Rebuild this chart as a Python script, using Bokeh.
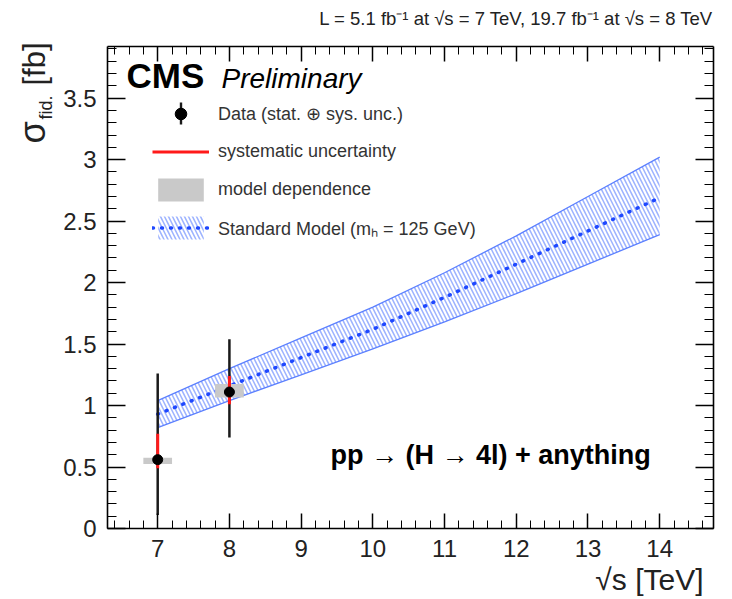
import math
from bokeh.plotting import figure
from bokeh.models import (Range1d, SingleIntervalTicker, LinearAxis, Label, Legend,
                          LegendItem, CustomJSTickFormatter, CustomLabelingPolicy,
                          BoxAnnotation)
from bokeh.embed import file_html
from bokeh.resources import INLINE

# ---------------- data ----------------
sqrt_s = [7, 8]
sigma = [0.56, 1.11]
total_up = [1.26, 1.54]
total_down = [0.11, 0.74]
sys_up = [0.77, 1.24]
sys_down = [0.49, 1.01]
model_up = [0.575, 1.175]
model_down = [0.525, 1.065]
model_left = [6.8, 7.8]
model_right = [7.2, 8.2]

sm_sqrt_s = [7, 8, 9, 10, 11, 12, 13, 14]
sm_central = [0.93, 1.16, 1.39, 1.62, 1.88, 2.15, 2.42, 2.69]
sm_upper = [1.04, 1.30, 1.55, 1.80, 2.08, 2.38, 2.70, 3.02]
sm_lower = [0.82, 1.04, 1.25, 1.46, 1.68, 1.91, 2.15, 2.39]

x_start, x_end = 6.3, 14.75
y_start, y_end = 0.0, 3.92

FONT = "Liberation Sans"
W, H = 732, 599
FL, FR, FT, FB = 107, 713, 46, 528   # visual frame box in canvas pixels
KX = (x_end - x_start) / (FR - FL)
KY = (y_end - y_start) / (FB - FT)


def X(px):
    return x_start + (px - FL) * KX


def Y(py):
    return y_start + (FB - py) * KY


p = figure(width=W, height=H, output_backend="svg", toolbar_location=None,
           x_range=Range1d(X(0), X(W)), y_range=Range1d(Y(H), Y(0)),
           min_border=0, x_axis_location=None, y_axis_location=None)
p.xgrid.visible = False
p.ygrid.visible = False
p.outline_line_color = None
p.background_fill_color = "white"
p.border_fill_color = "white"

fmt = CustomJSTickFormatter(code="return String(Math.round(tick*10)/10);")
hide_labels = CustomLabelingPolicy(code="for (const i of indices) indices.unset(i)")


def make_axis(interval, fixed, bounds, major, minor, show_labels):
    ax = LinearAxis(ticker=SingleIntervalTicker(interval=interval, num_minor_ticks=5),
                    fixed_location=fixed, bounds=bounds, formatter=fmt)
    ax.axis_line_color = "black"
    ax.axis_line_width = 1.6
    ax.major_tick_in = major
    ax.major_tick_out = 0
    ax.minor_tick_in = minor
    ax.minor_tick_out = 0
    ax.major_tick_line_color = "black"
    ax.major_tick_line_width = 1.5
    ax.minor_tick_line_color = "black"
    ax.minor_tick_line_width = 1
    if show_labels:
        ax.major_label_text_font = FONT
        ax.major_label_text_font_size = "24px"
        ax.major_label_text_color = "#222222"
        ax.major_label_standoff = 11
    else:
        ax.major_label_policy = hide_labels
    return ax


p.add_layout(make_axis(1, y_start, (x_start, x_end), 15, 8, True), "below")
p.add_layout(make_axis(1, y_end, (x_start, x_end), 15, 8, False), "above")
p.add_layout(make_axis(0.5, x_start, (y_start, y_end), 18, 9, True), "left")
p.add_layout(make_axis(0.5, x_end, (y_start, y_end), 18, 9, False), "right")

# ---------------- SM band ----------------
band_r = p.varea(x=sm_sqrt_s, y1=sm_lower, y2=sm_upper, fill_alpha=0,
                 hatch_pattern="\\", hatch_color="#9cb2ff", hatch_weight=1.5,
                 hatch_scale=8, hatch_alpha=1.0)
p.line(sm_sqrt_s, sm_upper, line_color="#5c80ff", line_width=1.3)
p.line(sm_sqrt_s, sm_lower, line_color="#5c80ff", line_width=1.3)
central_r = p.line(sm_sqrt_s, sm_central, line_color="#1f48ff", line_width=3.5,
                   line_dash="1 8", line_cap="round")

# ---------------- measurements ----------------
gray_rs = []
for i in range(len(sqrt_s)):
    gray_rs.append(p.varea(x=[model_left[i], model_right[i]],
                           y1=[model_down[i], model_down[i]],
                           y2=[model_up[i], model_up[i]],
                           fill_color="#c9c9c9"))
p.segment(x0=sqrt_s, y0=total_down, x1=sqrt_s, y1=total_up,
          line_color="#1a1a1a", line_width=2.5)
red_r = p.segment(x0=sqrt_s, y0=sys_down, x1=sqrt_s, y1=sys_up,
                  line_color="#ff1a1a", line_width=3)
pt_r = p.scatter(sqrt_s, sigma, size=10, fill_color="black", line_color="black")

# ---------------- legend ----------------
# vertical error-bar stroke of the "Data" legend key
p.add_layout(BoxAnnotation(left=X(179.3), right=X(181.7), top=Y(102), bottom=Y(124),
                           fill_color="#1a1a1a", fill_alpha=1, line_color=None))
legend = Legend(items=[
    LegendItem(label="Data (stat. \u2295 sys. unc.)", renderers=[pt_r]),
    LegendItem(label="systematic uncertainty", renderers=[red_r]),
    LegendItem(label="model dependence", renderers=[gray_rs[0]]),
    LegendItem(label="Standard Model (m\u2095 = 125 GeV)", renderers=[band_r, central_r]),
], location=(152, H - 242), glyph_width=57, glyph_height=29, spacing=9,
    label_standoff=9, label_height=29, label_text_font=FONT,
    label_text_font_size="18px", label_text_color="#333333",
    border_line_alpha=0, background_fill_alpha=0, padding=0, margin=0)
p.add_layout(legend)

# ---------------- texts ----------------
SHIFT = 0.36  # baseline correction (em)


def lab(text, px, py, fs, align="left", style="normal", angle=0.0, color="black"):
    if angle == 0.0:
        py = py - SHIFT * fs
    else:
        px = px - SHIFT * fs
    p.add_layout(Label(x=X(px), y=Y(py), text=text, text_font=FONT,
                       text_font_size=f"{fs}px", text_align=align,
                       text_font_style=style, angle=angle, text_color=color,
                       text_baseline="alphabetic"))


lab("L = 5.1 fb\u207b\u00b9 at \u221as = 7 TeV, 19.7 fb\u207b\u00b9 at \u221as = 8 TeV",
    713, 25, 18.5, align="right", color="#222222")
lab("CMS", 126, 88, 35, style="bold")
lab("Preliminary", 221, 88, 28, style="italic")
lab("pp \u2192 (H \u2192 4l) + anything", 330, 464, 27, style="bold")
lab("\u221as [TeV]", 703, 590, 30, align="right", color="#222222")
# y-axis title, rotated
lab("\u03c3", 45, 143, 36, angle=math.pi / 2, color="#222222")
lab("fid.", 52, 119, 18, angle=math.pi / 2, color="#222222")
lab("[fb]", 45, 85, 31, angle=math.pi / 2, color="#222222")

open("out.html", "w").write(file_html(p, INLINE))
